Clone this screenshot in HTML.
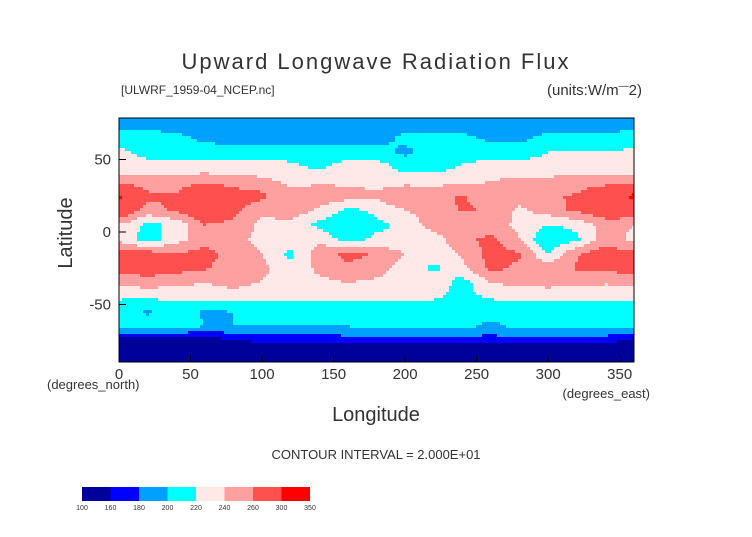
<!DOCTYPE html>
<html><head><meta charset="utf-8"><style>
body{margin:0;background:#fff;}
svg text{font-family:"Liberation Sans",sans-serif;fill:#333;}
</style></head><body>
<svg id="chart" width="752" height="532" viewBox="0 0 752 532">
<text x="376" y="69" text-anchor="middle" font-size="22" letter-spacing="2">Upward Longwave Radiation Flux</text>
<text x="121" y="94" font-size="12">[ULWRF_1959-04_NCEP.nc]</text>
<text x="642" y="95" text-anchor="end" font-size="15">(units:W/m<tspan dy="-6" font-size="10">—</tspan><tspan dy="6">2)</tspan></text>
<g id="field"></g>
<rect x="119" y="118" width="515" height="244" fill="none" stroke="#000" stroke-width="1"/>
<g id="axes"></g>
<text x="47" y="389" font-size="13">(degrees_north)</text>
<text x="650" y="398" text-anchor="end" font-size="13">(degrees_east)</text>
<text x="376" y="421" text-anchor="middle" font-size="20">Longitude</text>
<text x="0" y="0" transform="translate(72,233) rotate(-90)" text-anchor="middle" font-size="20">Latitude</text>
<text x="376" y="459" text-anchor="middle" font-size="13">CONTOUR INTERVAL = 2.000E+01</text>
<g id="cbar"></g>
</svg>
<script>
const lons=[0,20,40,60,80,100,120,140,160,180,200,220,240,260,280,300,320,340,360];
const lats=[75,65,55,45,35,25,15,5,-5,-15,-25,-35,-45,-55,-65,-75,-85];
const row75=[190,190,190,190,190,190,190,190,190,190,190,190,190,190,190,190,190,190,190];
const row65=[210,210,205,195,190,190,190,190,190,192,205,205,205,195,195,205,205,205,210];
const row55=[225,212,210,210,210,212,210,210,210,210,195,210,210,212,210,220,222,220,225];
const row45=[230,230,228,230,230,228,225,215,230,230,212,210,222,228,228,228,230,230,230];
const row35=[250,248,250,252,248,245,235,235,235,232,232,232,235,240,245,245,248,250,250];
const row25=[306,265,262,302,275,265,245,255,250,245,260,255,262,250,252,258,262,285,306];
const row15=[285,250,265,285,265,245,255,235,215,225,240,250,262,258,235,250,265,275,285];
const row5=[240,215,225,260,255,235,230,215,200,215,225,250,245,250,235,220,225,250,240];
const rowm5=[235,210,230,255,245,235,230,235,210,225,220,230,255,265,240,200,215,250,235];
const rowm15=[265,270,262,265,255,240,215,250,266,258,240,230,242,268,262,220,258,272,265];
const rowm25=[268,272,268,262,252,245,225,245,256,250,230,215,235,266,256,250,262,266,268];
const rowm35=[245,250,245,240,250,238,240,235,240,235,230,235,210,240,245,248,245,242,245];
const rowm45=[222,222,225,225,225,224,222,222,224,225,223,222,215,222,224,224,225,224,222];
const rowm55=[210,198,210,198,200,210,210,210,210,210,210,210,210,208,210,210,210,210,210];
const rowm65=[205,205,205,200,200,198,200,200,200,205,205,205,205,195,205,205,205,205,205];
const rowm75=[150,150,150,150,155,165,165,165,170,170,170,170,170,170,170,168,170,168,150];
const rowm85=[130,130,130,130,130,130,130,130,130,130,130,130,130,130,130,130,130,130,130];
const grid=[row75,row65,row55,row45,row35,row25,row15,row5,rowm5,rowm15,rowm25,rowm35,rowm45,rowm55,rowm65,rowm75,rowm85];
const levels=[100,160,180,200,220,240,260,300,350];
const colors=["#00009a","#0000ff","#00a0ff","#00ffff","#ffe8e8","#ffa0a0","#ff5050","#ff0000"];
const xTicks=[0,50,100,150,200,250,300,350];
const yTicks=[50,0,-50];
const NS="http://www.w3.org/2000/svg";
const X0=119,X1=634;
const xs=lon=>X0+(lon/360)*(X1-X0);
const ys=lat=>232-lat*1.45;
function colorFor(v){for(let i=levels.length-2;i>=0;i--){if(v>=levels[i])return colors[i];}return colors[0];}
function sample(lon,lat){
  let j=lon/20; if(j>=lons.length-1)j=lons.length-1.0001; const j0=Math.floor(j),fj=j-j0;
  let i=(lats[0]-lat)/10; if(i<0)i=0; if(i>=lats.length-1)i=lats.length-1.0001; const i0=Math.floor(i),fi=i-i0;
  const a=grid[i0][j0],b=grid[i0][j0+1],c=grid[i0+1][j0],d=grid[i0+1][j0+1];
  return (a*(1-fj)+b*fj)*(1-fi)+(c*(1-fj)+d*fj)*fi;
}
const field=document.getElementById('field');
const step=3;
for(let py=118;py<362;py+=step){
  for(let px=X0;px<X1;px+=step){
    const lon=((px+step/2)-X0)/(X1-X0)*360, lat=(232-(py+step/2))/1.45;
    const r=document.createElementNS(NS,'rect');
    
    
    r.setAttribute('x',px);r.setAttribute('y',py);
    r.setAttribute('width',Math.min(step,X1-px)+0.3);r.setAttribute('height',Math.min(step,362-py)+0.3);
    r.setAttribute('fill',colorFor(sample(lon,lat)));
    field.appendChild(r);
  }
}
const axes=document.getElementById('axes');
xTicks.forEach(t=>{
  const l=document.createElementNS(NS,'line');
  
  
  l.setAttribute('x1',xs(t));l.setAttribute('x2',xs(t));l.setAttribute('y1',362);l.setAttribute('y2',355);l.setAttribute('stroke','#000');
  axes.appendChild(l);
  const tx=document.createElementNS(NS,'text');
  
  
  tx.setAttribute('x',xs(t));tx.setAttribute('y',379);tx.setAttribute('text-anchor','middle');tx.setAttribute('font-size','15');
  tx.textContent=t;axes.appendChild(tx);
});
yTicks.forEach(t=>{
  const l=document.createElementNS(NS,'line');
  
  
  l.setAttribute('x1',119);l.setAttribute('x2',126);l.setAttribute('y1',ys(t));l.setAttribute('y2',ys(t));l.setAttribute('stroke','#000');
  axes.appendChild(l);
  const tx=document.createElementNS(NS,'text');
  
  
  tx.setAttribute('x',111);tx.setAttribute('y',ys(t)+5);tx.setAttribute('text-anchor','end');tx.setAttribute('font-size','15');
  tx.textContent=t;axes.appendChild(tx);
});
const cbar=document.getElementById('cbar');
const bw=28.5;
colors.forEach((c,i)=>{
  const r=document.createElementNS(NS,'rect');
  
  
  r.setAttribute('x',82+i*bw);r.setAttribute('y',487);r.setAttribute('width',bw);r.setAttribute('height',14);r.setAttribute('fill',c);
  cbar.appendChild(r);
});
levels.forEach((lv,i)=>{
  const tx=document.createElementNS(NS,'text');
  
  
  tx.setAttribute('x',82+i*bw);tx.setAttribute('y',510);tx.setAttribute('text-anchor','middle');tx.setAttribute('font-size','7');
  tx.textContent=lv;cbar.appendChild(tx);
});
</script>
</body></html>
